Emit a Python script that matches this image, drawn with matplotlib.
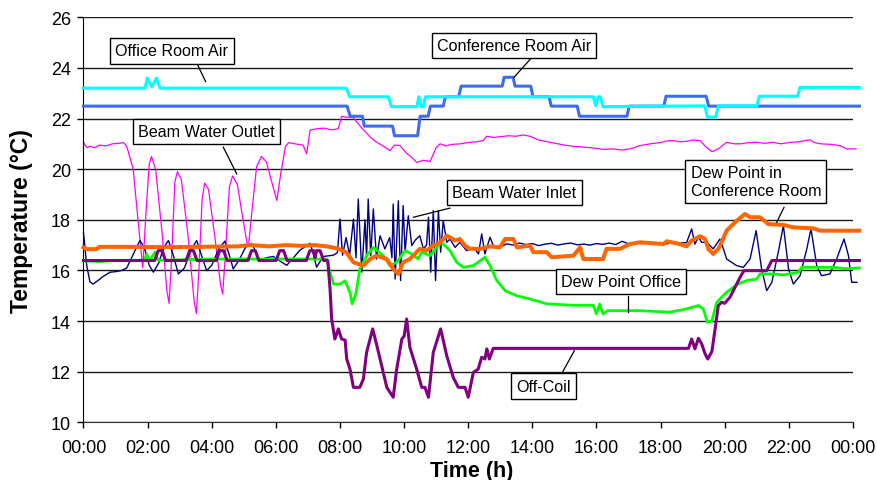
import numpy as np
import matplotlib
matplotlib.use("Agg")
from matplotlib import pyplot as plt

# ---- data (time in hours, temperature in deg C) ----
office_t = [0, 1.92, 1.99, 2.13, 2.28, 2.39, 8.2, 8.3, 9.52, 9.6, 10.4, 10.46, 10.53, 10.6, 10.67,
            15.9, 15.98, 16.05, 16.12, 16.2, 19.38, 19.46, 19.72, 19.8, 21.0, 21.08, 22.27, 22.35, 24.2]
office_v = [23.2, 23.2, 23.6, 23.25, 23.6, 23.2, 23.2, 22.86, 22.86, 22.47, 22.47, 22.86, 22.47, 22.47, 22.86,
            22.86, 22.5, 22.86, 22.86, 22.47, 22.5, 22.06, 22.06, 22.5, 22.5, 22.88, 22.88, 23.23, 23.23]

conf_t = [0, 8.22, 8.32, 8.7, 8.76, 9.64, 9.7, 10.42, 10.5, 10.75, 10.82, 11.22, 11.29, 11.7, 11.78,
          13.06, 13.12, 13.4, 13.46, 13.95, 14.02, 14.52, 14.59, 15.4, 15.47, 16.95, 17.02, 18.1, 18.17,
          19.42, 19.5, 24.2]
conf_v = [22.49, 22.49, 22.09, 22.09, 21.7, 21.7, 21.32, 21.32, 22.09, 22.09, 22.49, 22.49, 22.86, 22.86, 23.28,
          23.28, 23.63, 23.63, 23.28, 23.28, 22.86, 22.86, 22.49, 22.49, 22.09, 22.09, 22.49, 22.49, 22.88,
          22.88, 22.49, 22.49]

outlet_t = [0, 0.1, 0.2, 0.35, 0.5, 0.7, 0.9, 1.1, 1.25, 1.35, 1.55, 1.7, 1.85, 1.95, 2.05, 2.12, 2.25,
            2.45, 2.6, 2.67, 2.75, 2.85, 2.93, 3.05, 3.25, 3.45, 3.52, 3.6, 3.7, 3.78, 3.9, 4.1, 4.28,
            4.34, 4.42, 4.55, 4.65, 4.8, 4.95, 5.1, 5.15, 5.25, 5.4, 5.55, 5.7, 5.85, 6.03, 6.15, 6.3,
            6.4, 6.6, 6.85, 6.96, 7.07, 7.3, 7.5, 7.75, 7.95, 8.05, 8.2, 8.4, 8.5, 8.7, 8.94, 9.1, 9.3,
            9.56, 9.7, 9.87, 10.1, 10.25, 10.39, 10.6, 10.81, 11.0, 11.12, 11.3, 11.5, 11.75, 12.0, 12.25,
            12.47, 12.57, 12.8, 13.0, 13.25, 13.5, 13.7, 13.93, 14.2, 14.55, 14.8, 15.0, 15.3, 15.59,
            15.8, 16.0, 16.25, 16.5, 16.8, 17.05, 17.36, 17.67, 18.0, 18.2, 18.39, 18.6, 18.8, 19.0, 19.23,
            19.4, 19.6, 19.8, 20.06, 20.3, 20.5, 20.75, 21.0, 21.25, 21.5, 21.75, 22.0, 22.3, 22.66, 22.8,
            23.0, 23.3, 23.6, 23.8, 24.1]
outlet_v = [21.06, 20.85, 20.9, 20.85, 20.95, 20.92, 21.0, 21.02, 21.05, 20.9, 20.0, 18.0, 16.1, 18.3, 20.2,
            20.5, 20.0, 17.5, 15.2, 14.7, 16.5, 19.5, 19.9, 19.6, 17.5, 14.8, 14.3, 16.0, 18.8, 19.45,
            19.2, 17.3, 15.4, 15.07, 16.5, 19.3, 19.73, 19.4, 18.2, 17.1, 17.0, 18.3, 20.1, 20.5, 20.3,
            19.6, 18.76, 19.8, 20.9, 21.05, 21.0, 20.95, 20.6, 21.55, 21.6, 21.62, 21.55, 21.6, 22.09,
            22.05, 22.05, 21.9, 21.6, 21.27, 21.1, 20.95, 20.73, 20.95, 20.93, 20.6, 20.45, 20.27, 20.35,
            20.3, 20.85, 21.0, 20.92, 20.98, 21.0, 21.05, 21.08, 21.13, 21.3, 21.25, 21.28, 21.32, 21.3,
            21.35, 21.3, 21.15, 21.06, 21.0, 20.95, 20.9, 20.87, 20.85, 20.82, 20.78, 20.8, 20.76, 20.8,
            20.93, 21.0, 21.05, 21.12, 21.13, 21.08, 21.1, 21.15, 21.13, 20.9, 20.69, 20.8, 21.06, 21.0,
            21.0, 21.05, 21.06, 21.02, 21.06, 21.0, 21.05, 21.08, 21.16, 21.05, 21.0, 20.98, 20.93, 20.8,
            20.8]

inlet_t = [0, 0.1, 0.2, 0.3, 0.45, 0.6, 0.83, 1.0, 1.2, 1.35, 1.5, 1.65, 1.76, 1.9, 2.05, 2.18, 2.35,
           2.5, 2.65, 2.8, 2.96, 3.15, 3.35, 3.53, 3.68, 3.84, 4.0, 4.2, 4.41, 4.55, 4.67, 4.85, 5.05,
           5.25, 5.5, 5.7, 5.92, 6.15, 6.34, 6.55, 6.75, 7.07, 7.18, 7.27, 7.48, 7.79, 7.92, 8.0, 8.08,
           8.19, 8.3, 8.42, 8.5, 8.57, 8.68, 8.78, 8.83, 8.88, 8.96, 9.04, 9.14, 9.25, 9.4, 9.55, 9.62,
           9.66, 9.72, 9.82, 9.89, 9.97, 10.03, 10.13, 10.24, 10.35, 10.49, 10.6, 10.7, 10.76, 10.83,
           10.91, 10.98, 11.07, 11.14, 11.22, 11.33, 11.43, 11.59, 11.74, 11.95, 12.16, 12.32, 12.42,
           12.52, 12.68, 12.78, 12.99, 13.2, 13.4, 13.6, 13.8, 14.0, 14.2, 14.4, 14.6, 14.8, 15.0, 15.2,
           15.4, 15.6, 15.8, 16.0, 16.2, 16.4, 16.6, 16.8, 17.0, 17.2, 17.4, 17.6, 17.8, 18.0, 18.2, 18.4,
           18.6, 18.81, 18.97, 19.07, 19.18, 19.28, 19.44, 19.64, 19.85, 19.96, 20.06, 20.37, 20.58,
           20.79, 20.98, 21.15, 21.31, 21.47, 21.67, 21.83, 21.99, 22.14, 22.35, 22.56, 22.69, 22.87,
           23.02, 23.28, 23.49, 23.72, 23.86, 23.96, 24.12]
inlet_v = [17.5, 16.2, 15.55, 15.46, 15.6, 15.75, 15.93, 15.95, 16.0, 16.1, 16.5, 16.9, 17.18, 16.9, 16.2,
           15.93, 16.3, 16.9, 17.18, 16.6, 15.86, 16.1, 16.8, 17.18, 16.6, 15.99, 16.2, 16.8, 17.16, 16.6,
           16.06, 16.4, 16.9, 17.07, 16.4, 16.5, 16.55, 16.35, 16.2, 16.5, 16.8, 17.07, 16.6, 16.13,
           16.55, 16.6, 16.7, 18.03, 16.6, 17.3, 16.6, 18.03, 16.5, 18.82, 15.93, 18.0, 16.5, 18.82,
           16.58, 18.43, 16.45, 17.37, 16.85, 17.3, 16.5, 18.62, 15.66, 18.75, 15.6, 18.56, 16.72, 18.16,
           16.98, 17.2, 17.37, 16.85, 17.0, 18.1, 15.93, 18.36, 15.6, 18.36, 16.72, 17.97, 17.11, 17.24,
           16.91, 17.11, 16.78, 16.91, 16.65, 17.44, 16.65, 17.31, 16.98, 16.91, 17.05, 17.0, 17.08,
           17.02, 17.06, 16.98, 17.04, 17.07, 17.0, 17.05, 17.08, 17.01, 17.04, 17.0, 17.06, 17.03,
           17.08, 17.02, 17.15, 17.05, 17.1, 17.06, 17.12, 17.08, 17.1, 17.05, 17.12, 17.08, 17.1,
           17.64, 17.04, 17.31, 17.11, 17.11, 16.85, 17.24, 16.85, 16.45, 16.19, 16.12, 16.45, 17.57,
           16.06, 15.2, 15.53, 16.72, 17.77, 16.06, 15.46, 15.79, 16.85, 17.64, 16.19, 15.79, 15.86,
           16.45, 17.24, 16.58, 15.53, 15.53]

dp_conf_t = [0, 0.1, 0.4, 0.5, 1.5, 2.5, 3.5, 4.8, 5.2, 5.8, 6.3, 6.8, 7.2, 7.58, 7.8, 8.0, 8.21, 8.42,
             8.73, 8.94, 9.14, 9.46, 9.66, 9.82, 9.97, 10.18, 10.49, 10.7, 10.91, 11.12, 11.33, 11.43,
             11.59, 11.74, 11.9, 12.06, 12.37, 12.68, 12.99, 13.15, 13.41, 13.52, 13.93, 14.03, 14.45,
             14.6, 15.28, 15.49, 15.59, 16.21, 16.31, 16.73, 17.04, 17.36, 18.09, 18.19, 18.6, 18.81,
             18.97, 19.23, 19.39, 19.49, 19.64, 19.8, 19.9, 20.06, 20.32, 20.63, 20.79, 21.1, 21.36,
             21.83, 22.14, 22.76, 22.97, 24.2]
dp_conf_v = [16.91, 16.84, 16.84, 16.93, 16.93, 16.92, 16.93, 16.95, 17.0, 16.95, 17.0, 16.97, 17.0, 16.95,
             16.9, 16.83, 16.7, 16.32, 16.19, 16.45, 16.58, 16.45, 16.06, 15.86, 16.32, 16.45, 16.85,
             16.78, 16.98, 17.11, 17.37, 17.31, 17.18, 17.24, 16.98, 16.85, 16.85, 16.95, 16.91, 17.24,
             17.24, 16.91, 16.98, 16.72, 16.72, 16.52, 16.58, 16.91, 16.45, 16.45, 16.85, 16.85, 17.04,
             17.11, 17.04, 17.15, 17.04, 16.95, 17.18, 17.35, 17.24, 16.85, 16.65, 16.85, 17.11, 17.57,
             17.9, 18.23, 18.1, 18.1, 17.83, 17.8, 17.7, 17.66, 17.57, 17.57]

dp_office_t = [0, 0.5, 1.0, 1.5, 1.9, 1.97, 2.07, 2.23, 2.33, 3.0, 4.0, 5.0, 6.0, 7.0, 7.58, 7.69, 7.8,
               8.0, 8.16, 8.31, 8.38, 8.5, 8.62, 8.83, 9.04, 9.35, 9.56, 9.77, 10.03, 10.24, 10.44, 10.55,
               10.81, 11.02, 11.17, 11.43, 11.64, 11.85, 12.16, 12.37, 12.52, 12.68, 12.89, 13.15, 13.51,
               13.93, 14.45, 15.28, 15.9, 16.0, 16.1, 16.21, 16.35, 17.36, 18.29, 18.81, 19.18, 19.33,
               19.46, 19.6, 19.75, 20.06, 20.27, 20.42, 20.69, 21.0, 21.1, 21.52, 21.83, 22.3, 22.4, 23.39,
               23.8, 24.2]
dp_office_v = [16.38, 16.35, 16.4, 16.4, 16.4, 16.65, 16.38, 16.72, 16.4, 16.42, 16.45, 16.45, 16.45, 16.45,
               16.45, 15.93, 15.46, 15.46, 15.59, 15.14, 14.68, 15.1, 16.06, 16.58, 16.91, 16.58, 16.19,
               16.32, 16.78, 16.65, 16.45, 16.72, 16.58, 16.91, 17.11, 16.78, 16.32, 16.12, 16.19, 16.38,
               16.52, 16.19, 15.6, 15.2, 15.0, 14.87, 14.68, 14.62, 14.62, 14.28, 14.67, 14.28, 14.41,
               14.41, 14.35, 14.48, 14.61, 14.48, 13.95, 14.0, 14.74, 15.14, 15.33, 15.46, 15.6, 15.66,
               15.86, 15.86, 15.82, 15.93, 16.12, 16.12, 16.06, 16.1]

offcoil_t = [0, 2.22, 2.33, 2.45, 2.56, 3.2, 3.31, 3.43, 3.54, 4.14, 4.25, 4.37, 4.48, 5.13, 5.24, 5.36,
             5.47, 6.01, 6.12, 6.24, 6.35, 6.95, 7.06, 7.18, 7.22, 7.27, 7.38, 7.49, 7.62, 7.69, 7.74,
             7.84, 7.95, 8.05, 8.16, 8.21, 8.31, 8.42, 8.62, 8.73, 8.83, 9.02, 9.15, 9.3, 9.46, 9.66,
             9.77, 9.93, 10.0, 10.08, 10.18, 10.39, 10.55, 10.65, 10.76, 10.91, 11.14, 11.33, 11.53,
             11.69, 11.9, 12.0, 12.16, 12.31, 12.42, 12.52, 12.58, 12.66, 12.78, 18.87, 18.97, 19.07,
             19.18, 19.28, 19.39, 19.47, 19.6, 19.7, 19.8, 19.9, 20.0, 20.17, 20.32, 20.48, 20.6, 21.31,
             21.47, 24.2]
offcoil_v = [16.39, 16.39, 16.78, 16.78, 16.39, 16.39, 16.78, 16.78, 16.39, 16.39, 16.78, 16.78, 16.39,
             16.39, 16.78, 16.78, 16.39, 16.39, 16.78, 16.78, 16.39, 16.39, 16.78, 16.78, 16.5, 16.78,
             16.78, 16.39, 16.39, 15.27, 14.08, 13.29, 13.69, 13.29, 13.25, 12.5, 12.11, 11.38, 11.38,
             11.71, 12.76, 13.69, 13.03, 12.24, 11.38, 10.99, 12.11, 13.29, 13.4, 14.08, 12.96, 12.11,
             11.38, 11.38, 10.99, 12.76, 13.69, 12.63, 11.78, 11.38, 11.38, 10.99, 11.97, 12.1, 12.57,
             12.5, 12.9, 12.5, 12.92, 12.92, 13.29, 12.9, 13.32, 13.1, 12.7, 12.5, 12.8, 13.69, 14.61,
             14.74, 14.7, 14.95, 15.33, 15.73, 15.99, 15.99, 16.39, 16.39]

x_ticks = list(range(0, 25, 2))
x_labels = ["%02d:00" % (h % 24) for h in x_ticks]
y_ticks = list(range(10, 27, 2))

# ---- figure ----
plt.rcParams['font.family'] = ['Liberation Sans', 'DejaVu Sans']
fig = plt.figure(figsize=(8.77, 4.81), dpi=100)
ax = fig.add_axes([0.0952, 0.12, 0.8774, 0.842])

ax.plot(outlet_t, outlet_v, color='#FF00FF', lw=0.9, zorder=2, clip_on=False)
ax.plot(inlet_t, inlet_v, color='#000080', lw=1.0, zorder=3, clip_on=False)
ax.plot(dp_office_t, dp_office_v, color='#00FF00', lw=2.0, zorder=4, clip_on=False)
ax.plot(offcoil_t, offcoil_v, color='#800080', lw=2.2, zorder=5, clip_on=False)
ax.plot(dp_conf_t, dp_conf_v, color='#FF6600', lw=2.9, zorder=6, clip_on=False)
ax.plot(conf_t, conf_v, color='#3D6CF0', lw=2.2, zorder=7, clip_on=False)
ax.plot(office_t, office_v, color='#00FFFF', lw=2.2, zorder=8, clip_on=False)

ax.set_xlim(0, 24)
ax.set_ylim(10, 26)
ax.set_xticks(x_ticks)
ax.set_xticklabels(x_labels)
ax.set_yticks(y_ticks)
ax.yaxis.grid(True, color='#1a1a1a', lw=1.0)
ax.set_axisbelow(True)
for s in ['top', 'right']:
    ax.spines[s].set_visible(False)
ax.spines['left'].set_color('black')
ax.spines['bottom'].set_color('#333333')
ax.tick_params(axis='both', labelsize=13, length=4.5, width=1, direction='out', pad=4.5)
ax.tick_params(axis='x', pad=7.5)

ax.set_xlabel('Time (h)', fontsize=15.5, fontweight='bold')
ax.set_ylabel('Temperature (°C)', fontsize=16.5, fontweight='bold')
ax.xaxis.set_label_coords(0.505, -0.093)
ax.yaxis.set_label_coords(-0.066, 0.5)

# ---- callout boxes ----
box = dict(boxstyle='square,pad=0.32', fc='white', ec='black', lw=1.0)
callouts = [
    ('Office Room Air', 2.76, 24.67, [3.56, 3.81], [24.12, 23.46]),
    ('Conference Room Air', 13.43, 24.88, [13.96, 13.43], [24.38, 23.63]),
    ('Beam Water Outlet', 3.84, 21.48, [4.36, 4.78], [20.87, 19.81]),
    ('Beam Water Inlet', 13.44, 19.07, [11.43, 10.29], [18.46, 18.1]),
    ('Dew Point in\nConference Room', 20.97, 19.51, [21.85, 21.62], [18.49, 17.9]),
    ('Dew Point Office', 16.77, 15.55, [16.99, 16.99], [14.98, 14.35]),
    ('Off-Coil', 14.35, 11.43, [14.95, 15.31], [12.0, 12.83]),
]
for label, tx, ty, lx, ly in callouts:
    ax.plot(lx, ly, color='black', lw=0.9, zorder=9)
    ax.text(tx, ty, label, fontsize=11.6, ha='center', va='center', multialignment='left',
            bbox=box, zorder=10)

fig.savefig('out.png', dpi=100)
